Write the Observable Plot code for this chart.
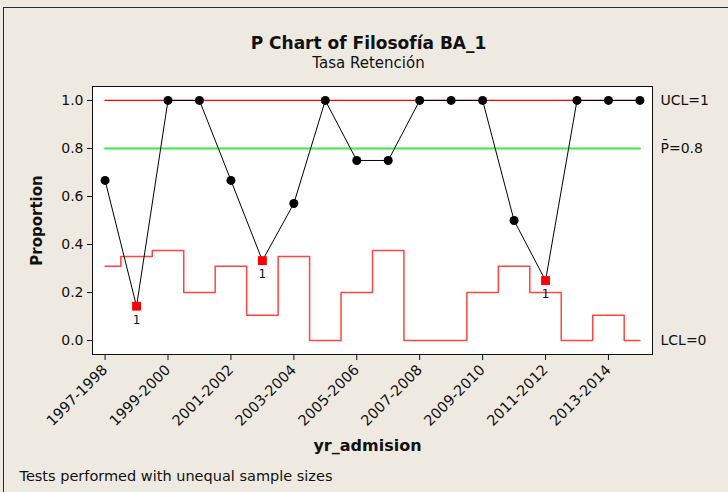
<!DOCTYPE html>
<html><head><meta charset="utf-8">
<script src="https://cdn.jsdelivr.net/npm/d3@7"></script>
<script src="https://cdn.jsdelivr.net/npm/@observablehq/plot@0.6"></script>
<style>
body{margin:0;background:#EEEAE1;}
#wrap{position:relative;width:728px;height:492px;overflow:hidden;background:#EEEAE1;}
#border{position:absolute;left:3px;top:7px;width:760px;height:520px;border:1.5px solid #2a2a2a;box-sizing:border-box;pointer-events:none;}
</style></head>
<body><div id="wrap"><div id="chart"></div><div id="border"></div></div>
<script>
const years = ["1997-1998","1998-1999","1999-2000","2000-2001","2001-2002","2002-2003","2003-2004","2004-2005","2005-2006","2006-2007","2007-2008","2008-2009","2009-2010","2010-2011","2011-2012","2012-2013","2013-2014","2014-2015"];
const proportion = [0.667,0.143,1,1,0.667,0.333,0.571,1,0.75,0.75,1,1,1,0.5,0.25,1,1,1];
const lclValues = [0.31,0.35,0.375,0.2,0.31,0.105,0.35,0,0.2,0.375,0,0,0.2,0.31,0.2,0,0.105,0];
const flagged = [false,true,false,false,false,true,false,false,false,false,false,false,false,false,true,false,false,false];
const uclValue = 1;
const pBar = 0.8;
const tickYears = ["1997-1998","1999-2000","2001-2002","2003-2004","2005-2006","2007-2008","2009-2010","2011-2012","2013-2014"];
const yTicks = [0,0.2,0.4,0.6,0.8,1.0];
const limitLabels = [{y:uclValue, t:"UCL=1"},{y:pBar, t:"P\u0304=0.8"},{y:0, t:"LCL=0"}];

const rows = years.map((year,i)=>({year, p:proportion[i], lcl:lclValues[i], flag:flagged[i], ucl:uclValue, cl:pBar}));
const ok = rows.filter(d=>!d.flag);
const bad = rows.filter(d=>d.flag);

const chart = Plot.plot({
  width: 728, height: 492,
  marginLeft: 92, marginRight: 76, marginTop: 86, marginBottom: 138,
  style: {fontFamily: "DejaVu Sans, sans-serif", fontSize: "13px", background: "transparent", color: "#111", overflow: "visible"},
  x: {type: "point", domain: years, padding: 0.4, round: false, label: null},
  y: {domain: [-0.058, 1.058], label: null},
  marks: [
    Plot.frame({fill: "white"}),
    Plot.line(rows, {x: "year", y: "ucl", stroke: "#ff0000", strokeWidth: 1.3}),
    Plot.line(rows, {x: "year", y: "cl", stroke: "#3ee83e", strokeWidth: 2}),
    Plot.line(rows, {x: "year", y: "lcl", curve: "step", stroke: "#ff4545", strokeWidth: 1.5}),
    Plot.line(rows, {x: "year", y: "p", stroke: "#000", strokeWidth: 1}),
    Plot.dot(ok, {x: "year", y: "p", r: 4.5, fill: "#000"}),
    Plot.dot(bad, {x: "year", y: "p", r: 5, symbol: "square", fill: "#ff0000"}),
    Plot.text(bad, {x: "year", y: "p", text: () => "1", dy: 14, fontSize: 12, fill: "#111"}),
    Plot.frame({stroke: "#111", strokeWidth: 1}),
    Plot.axisY({ticks: yTicks, tickFormat: ".1f", tickSize: 5, tickPadding: 4, fontSize: 14, label: null}),
    Plot.axisX({ticks: tickYears, tickRotate: -45, tickSize: 6, tickPadding: 7, fontSize: 14.5, label: null}),
    Plot.text(limitLabels, {y: "y", text: "t", frameAnchor: "right", dx: 8, textAnchor: "start", fontSize: 14, fill: "#111"}),
    Plot.text(["P Chart of Filosofía BA_1"], {text: d => d, frameAnchor: "top", lineAnchor: "middle", dx: -4, dy: -43, fontSize: 17, fontWeight: "bold", fill: "#111"}),
    Plot.text(["Tasa Retención"], {text: d => d, frameAnchor: "top", lineAnchor: "middle", dx: -4, dy: -23, fontSize: 15, fill: "#111"}),
    Plot.text(["yr_admision"], {text: d => d, frameAnchor: "bottom", lineAnchor: "middle", dx: -5, dy: 91, fontSize: 16, fontWeight: "bold", fill: "#111"}),
    Plot.text(["Proportion"], {text: d => d, frameAnchor: "left", textAnchor: "middle", lineAnchor: "middle", dx: -55, rotate: -90, fontSize: 15, fontWeight: "bold", fill: "#111"}),
    Plot.text(["Tests performed with unequal sample sizes"], {text: d => d, frameAnchor: "bottom-left", lineAnchor: "middle", dx: -73, dy: 122, textAnchor: "start", fontSize: 14.5, fill: "#111"})
  ]
});
document.getElementById("chart").appendChild(chart);
</script>
</body></html>
